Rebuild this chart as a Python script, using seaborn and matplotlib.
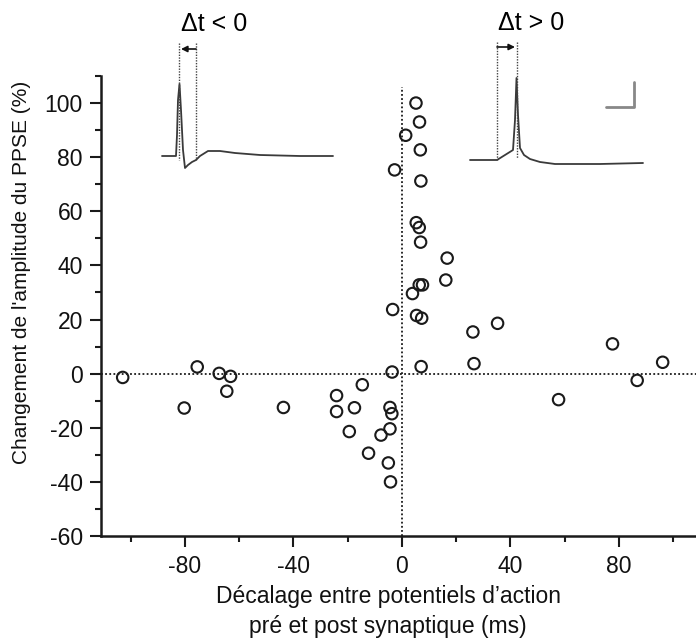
import matplotlib
matplotlib.use("Agg")
import matplotlib.pyplot as plt
import seaborn as sns
import numpy as np
import pandas as pd

# ---- data ----
delay_ms = [-103, -75.5, -80.3, -67.4, -63.2, -64.6, -43.7, -24.1, -24.1, -17.5,
            -14.6, -19.4, -12.3, -7.7, -4.4, -3.7, -4.4, -5.0, -4.2, -3.6,
            5.2, 6.5, 1.4, 6.8, -2.7, 7.0, 5.3, 6.4, 6.9, 16.7,
            16.2, 6.4, 7.6, 3.9, -3.4, 5.4, 7.3, 26.2, 26.6, 7.1,
            35.3, 57.8, 77.7, 86.8, 96.2]
change_pct = [-1.4, 2.5, -12.7, 0.1, -1.0, -6.5, -12.5, -8.1, -14.0, -12.6,
              -4.1, -21.4, -29.4, -22.7, -12.5, -14.8, -20.4, -33.0, -40.0, 0.6,
              100.0, 93.0, 88.1, 82.7, 75.3, 71.2, 55.8, 54.0, 48.6, 42.7,
              34.6, 32.8, 32.8, 29.6, 23.7, 21.5, 20.5, 15.4, 3.7, 2.6,
              18.6, -9.6, 11.0, -2.5, 4.2]

x_major = [-80, -40, 0, 40, 80]
x_minor = [-100, -60, -20, 20, 60, 100]
y_major = [-60, -40, -20, 0, 20, 40, 60, 80, 100]
y_minor = [-50, -30, -10, 10, 30, 50, 70, 90, 110]

ylabel = "Changement de l'amplitude du PPSE (%)"
xlabel_lines = ["Décalage entre potentiels d\u2019action", "pré et post synaptique (ms)"]

# inset traces (figure pixel coordinates, illustrative)
trace_neg_x = [162, 176, 177, 178, 179.5, 181, 183, 185, 188, 192, 196, 200, 208, 220, 235, 260, 300, 333]
trace_neg_y = [156, 156, 135, 100, 84, 110, 150, 168, 165, 162, 160, 156, 151, 151, 153, 155, 156, 156]
trace_pos_x = [470, 497, 505, 513, 515, 516.5, 518, 520, 524, 530, 540, 555, 600, 643]
trace_pos_y = [160, 160, 155, 150, 120, 78, 115, 148, 155, 159, 162, 164, 164, 163]

df = pd.DataFrame({"delay": delay_ms, "change": change_pct})

sns.set_style("ticks")
plt.rcParams["font.family"] = ["Liberation Sans", "DejaVu Sans"]

W, H = 696, 642
fig = plt.figure(figsize=(W / 100, H / 100), dpi=100)
ax = fig.add_axes([101 / W, 1 - 536 / H, (W - 101) / W, (536 - 76) / H])

ink = "#1a1a1a"
ax.axhline(0, color=ink, lw=1.3, ls=(0, (1, 1.3)), zorder=1)
ax.axvline(0, ymax=(106 + 60) / 170, color=ink, lw=1.3, ls=(0, (1, 1.3)), zorder=1)

sns.scatterplot(data=df, x="delay", y="change", ax=ax, marker="o", s=68,
                facecolor="none", edgecolor=ink, linewidth=1.5, zorder=3)

ax.set_xlim(-111, 108.5)
ax.set_ylim(-60, 110)
ax.set_xticks(x_major)
ax.set_xticks(x_minor, minor=True)
ax.set_yticks(y_major)
ax.set_yticks(y_minor, minor=True)
ax.set_xticklabels([str(v) for v in x_major])
ax.set_yticklabels([str(v) for v in y_major])
ax.tick_params(axis="both", which="major", length=8, width=1.5, color=ink,
               labelsize=16.5, labelcolor="#111")
ax.tick_params(axis="both", which="minor", length=4.5, width=1.5, color=ink)
ax.tick_params(axis="x", which="major", pad=6)
ax.tick_params(axis="y", which="major", pad=5)
for side in ["top", "right"]:
    ax.spines[side].set_visible(False)
for side in ["left", "bottom"]:
    ax.spines[side].set_linewidth(1.8)
    ax.spines[side].set_color(ink)
ax.set_xlabel("")
ax.set_ylabel("")

fig.text(22 / W, 1 - 272 / H, ylabel, rotation=90, ha="center", va="center",
         fontsize=15, color="#111")
fig.text(388 / W, 1 - 597 / H, xlabel_lines[0], ha="center", va="center",
         fontsize=16.5, color="#111")
fig.text(388 / W, 1 - 626 / H, xlabel_lines[1], ha="center", va="center",
         fontsize=16.5, color="#111")

# overlay for insets
ov = fig.add_axes([0, 0, 1, 1], zorder=5)
ov.set_xlim(0, W)
ov.set_ylim(H, 0)
ov.axis("off")

tr = "#3a3a3a"
ov.plot(trace_neg_x, trace_neg_y, color=tr, lw=1.3)
ov.plot(trace_pos_x, trace_pos_y, color=tr, lw=1.3)
for xv, y0, y1 in [(179, 43, 160), (196, 43, 160), (497, 42, 160), (516.5, 42, 158)]:
    ov.plot([xv, xv], [y0, y1], color="#444", lw=1.0, ls=(0, (1, 1)))
ov.annotate("", xy=(181, 49), xytext=(196, 49),
            arrowprops=dict(arrowstyle="-|>", lw=1.2, color="#111", mutation_scale=9,
                            shrinkA=0, shrinkB=0))
ov.annotate("", xy=(515, 47), xytext=(497, 47),
            arrowprops=dict(arrowstyle="-|>", lw=1.2, color="#111", mutation_scale=9,
                            shrinkA=0, shrinkB=0))
ov.text(214, 24, "\u0394t < 0", ha="center", va="center", fontsize=18, color="#000")
ov.text(531, 23, "\u0394t > 0", ha="center", va="center", fontsize=18, color="#000")
ov.plot([606, 634, 634], [107, 107, 82], color="#888", lw=2)

fig.savefig("out.png", dpi=100)
